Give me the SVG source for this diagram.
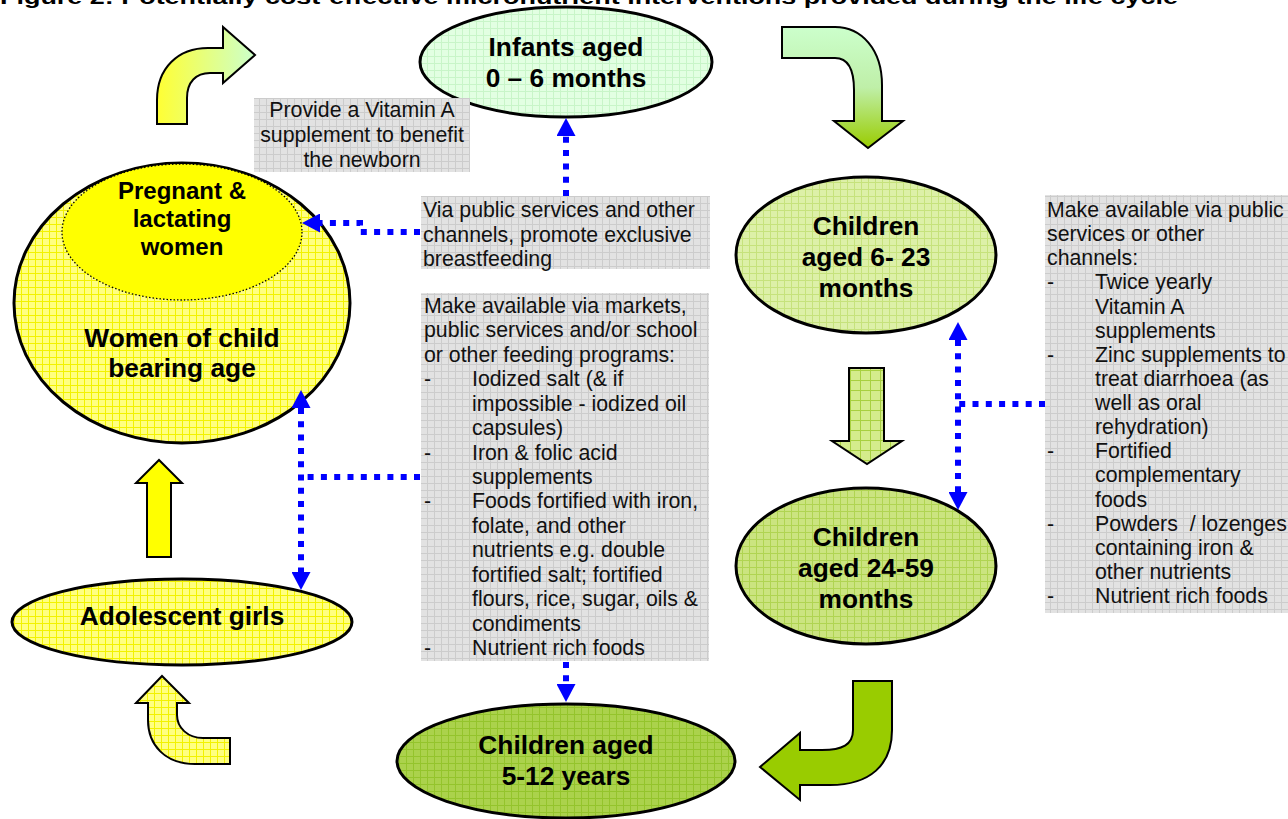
<svg xmlns="http://www.w3.org/2000/svg" width="1288" height="819" viewBox="0 0 1288 819">
<style>
.lbl{font-family:"Liberation Sans",Arial,sans-serif;font-weight:bold;font-size:26.3px;fill:#000;text-anchor:middle}
.lbl2{font-family:"Liberation Sans",Arial,sans-serif;font-weight:bold;font-size:24px;fill:#000;text-anchor:middle}
.txt{font-family:"Liberation Sans",Arial,sans-serif;font-size:21.3px;fill:#111}
.node{stroke:#000;stroke-width:3}
.arrow{stroke:#000;stroke-width:2;stroke-linejoin:miter}
.box{fill:url(#pGray)}
.conn{fill:none;stroke:#0000FF;stroke-width:6;stroke-dasharray:6 7.3}
</style>
<defs>
<pattern id="pYellow" width="7" height="7" patternUnits="userSpaceOnUse"><rect width="7" height="7" fill="#FFFF80"/><path d="M0,0.5H7M0.5,0V7" stroke="#F2F200" stroke-width="1"/></pattern>
<pattern id="pInf" width="7" height="7" patternUnits="userSpaceOnUse"><rect width="7" height="7" fill="#E2FFE2"/><path d="M0,0.5H7M0.5,0V7" stroke="#C8F5C8" stroke-width="1"/></pattern>
<pattern id="p623" width="7" height="7" patternUnits="userSpaceOnUse"><rect width="7" height="7" fill="#DDF0A8"/><path d="M0,0.5H7M0.5,0V7" stroke="#C6E27C" stroke-width="1"/></pattern>
<pattern id="p2459" width="7" height="7" patternUnits="userSpaceOnUse"><rect width="7" height="7" fill="#CBE480"/><path d="M0,0.5H7M0.5,0V7" stroke="#B0D452" stroke-width="1"/></pattern>
<pattern id="p512" width="7" height="7" patternUnits="userSpaceOnUse"><rect width="7" height="7" fill="#ABD24C"/><path d="M0,0.5H7M0.5,0V7" stroke="#94C42C" stroke-width="1"/></pattern>
<pattern id="pDown" width="10" height="10" patternUnits="userSpaceOnUse"><rect width="10" height="10" fill="#D4EC8C"/><path d="M0,0.5H10M0.5,0V10" stroke="#A8D040" stroke-width="1"/></pattern>
<pattern id="pGray" width="7" height="7" patternUnits="userSpaceOnUse"><rect width="7" height="7" fill="#E2E2E2"/><path d="M0,0.5H7M0.5,0V7" stroke="#CCCCCC" stroke-width="1"/></pattern>
<linearGradient id="gTL" gradientUnits="userSpaceOnUse" x1="157" y1="0" x2="255" y2="0"><stop offset="0" stop-color="#FFFF33"/><stop offset="1" stop-color="#CCFFCC"/></linearGradient>
<linearGradient id="gTR" gradientUnits="userSpaceOnUse" x1="0" y1="27" x2="0" y2="148"><stop offset="0" stop-color="#CCFFCC"/><stop offset="0.5" stop-color="#BFEFA8"/><stop offset="1" stop-color="#99CC00"/></linearGradient>
<marker id="ah" markerUnits="userSpaceOnUse" markerWidth="19" markerHeight="19" refX="0" refY="9.5" orient="auto-start-reverse" viewBox="0 0 18 19"><path d="M0,0L18,9.5L0,19Z" fill="#0000FF"/></marker>
</defs>

<text x="0" y="4" font-family="Liberation Sans,Arial,sans-serif" font-weight="bold" font-size="21" textLength="1178" lengthAdjust="spacingAndGlyphs">Figure 2: Potentially cost-effective micronutrient interventions provided during the life cycle</text>

<g id="women">
<ellipse class="node" cx="182" cy="303" rx="168" ry="140" fill="url(#pYellow)"/>
<text class="lbl" x="182" y="347">Women of child</text>
<text class="lbl" x="182" y="377">bearing age</text>
</g>
<g id="pregnant">
<ellipse cx="182" cy="232" rx="120" ry="68" fill="#FFFF00" stroke="#000" stroke-width="1.3" stroke-dasharray="1.5 2"/>
<text class="lbl2" x="182" y="199">Pregnant &amp;</text>
<text class="lbl2" x="182" y="227">lactating</text>
<text class="lbl2" x="182" y="255">women</text>
</g>
<g id="infants">
<ellipse class="node" cx="566" cy="62" rx="146" ry="55" fill="url(#pInf)"/>
<text class="lbl" x="566" y="56">Infants aged</text>
<text class="lbl" x="566" y="87">0 – 6 months</text>
</g>
<g id="children623">
<ellipse class="node" cx="866" cy="255" rx="130" ry="78" fill="url(#p623)"/>
<text class="lbl" x="866" y="235">Children</text>
<text class="lbl" x="866" y="266">aged 6- 23</text>
<text class="lbl" x="866" y="297">months</text>
</g>
<g id="children2459">
<ellipse class="node" cx="866" cy="566" rx="130" ry="78" fill="url(#p2459)"/>
<text class="lbl" x="866" y="546">Children</text>
<text class="lbl" x="866" y="577">aged 24-59</text>
<text class="lbl" x="866" y="608">months</text>
</g>
<g id="children512">
<ellipse class="node" cx="566" cy="761" rx="169" ry="57" fill="url(#p512)"/>
<text class="lbl" x="566" y="754">Children aged</text>
<text class="lbl" x="566" y="785">5-12 years</text>
</g>
<g id="adolescent">
<ellipse class="node" cx="182" cy="622" rx="170" ry="43" fill="url(#pYellow)"/>
<text class="lbl" x="182" y="625">Adolescent girls</text>
</g>

<g id="cycle-arrows">
<path class="arrow" fill="url(#gTL)" d="M157,124V100C157,68 178,48 208,48H223V27L255,55L223,83V73H210C196,73 187,82 187,98V124Z"/>
<path class="arrow" fill="url(#gTR)" d="M782,27H835C862,27 882,50 882,85V121H903L868,148L834,121H854V90C854,70 848,58 835,58H782Z"/>
<path class="arrow" fill="url(#pDown)" d="M849,368H884V441H902L867,464L832,441H849Z"/>
<path class="arrow" fill="#99CC00" d="M853,681H892V730C892,765 870,785 830,785H800V800L760,767L800,733V750H822C842,750 853,745 853,730Z"/>
<path class="arrow" fill="#FFFF00" d="M147,557V483H136L159,460L182,483H171V557Z"/>
<path class="arrow" fill="url(#pYellow)" d="M230,738H203C188,738 177,728 177,715V703H189L162,676L136,703H148V720C148,745 165,764 195,764H230Z"/>
</g>

<g id="box-vitA">
<rect class="box" x="254" y="98" width="216" height="74"/>
<text class="txt" x="362" y="117" text-anchor="middle">Provide a Vitamin A</text>
<text class="txt" x="362" y="142" text-anchor="middle">supplement to benefit</text>
<text class="txt" x="362" y="167" text-anchor="middle">the newborn</text>
</g>
<g id="box-breastfeeding">
<rect class="box" x="421" y="196" width="289" height="73"/>
<text class="txt" x="423" y="217">Via public services and other</text>
<text class="txt" x="423" y="241.6">channels, promote exclusive</text>
<text class="txt" x="423" y="266.2">breastfeeding</text>
</g>
<g id="box-women">
<rect class="box" x="421" y="293" width="288" height="368"/>
<text class="txt" x="424" y="313">Make available via markets,</text>
<text class="txt" x="424" y="337.4">public services and/or school</text>
<text class="txt" x="424" y="361.9">or other feeding programs:</text>
<text class="txt" x="424" y="386.3">-</text><text class="txt" x="472" y="386.3">Iodized salt (&amp; if</text>
<text class="txt" x="472" y="410.7">impossible - iodized oil</text>
<text class="txt" x="472" y="435.2">capsules)</text>
<text class="txt" x="424" y="459.6">-</text><text class="txt" x="472" y="459.6">Iron &amp; folic acid</text>
<text class="txt" x="472" y="484">supplements</text>
<text class="txt" x="424" y="508.4">-</text><text class="txt" x="472" y="508.4">Foods fortified with iron,</text>
<text class="txt" x="472" y="532.9">folate, and other</text>
<text class="txt" x="472" y="557.3">nutrients e.g. double</text>
<text class="txt" x="472" y="581.7">fortified salt; fortified</text>
<text class="txt" x="472" y="606.2">flours, rice, sugar, oils &amp;</text>
<text class="txt" x="472" y="630.6">condiments</text>
<text class="txt" x="424" y="655">-</text><text class="txt" x="472" y="655">Nutrient rich foods</text>
</g>
<g id="box-children">
<rect class="box" x="1045" y="195" width="243" height="418"/>
<text class="txt" x="1047" y="217">Make available via public</text>
<text class="txt" x="1047" y="241.1">services or other</text>
<text class="txt" x="1047" y="265.3">channels:</text>
<text class="txt" x="1047" y="289.4">-</text><text class="txt" x="1095" y="289.4">Twice yearly</text>
<text class="txt" x="1095" y="313.5">Vitamin A</text>
<text class="txt" x="1095" y="337.6">supplements</text>
<text class="txt" x="1047" y="361.8">-</text><text class="txt" x="1095" y="361.8">Zinc supplements to</text>
<text class="txt" x="1095" y="385.9">treat diarrhoea (as</text>
<text class="txt" x="1095" y="410">well as oral</text>
<text class="txt" x="1095" y="434.1">rehydration)</text>
<text class="txt" x="1047" y="458.3">-</text><text class="txt" x="1095" y="458.3">Fortified</text>
<text class="txt" x="1095" y="482.4">complementary</text>
<text class="txt" x="1095" y="506.5">foods</text>
<text class="txt" x="1047" y="530.6">-</text><text class="txt" x="1095" y="530.6">Powders&#160; / lozenges</text>
<text class="txt" x="1095" y="554.8">containing iron &amp;</text>
<text class="txt" x="1095" y="578.9">other nutrients</text>
<text class="txt" x="1047" y="603">-</text><text class="txt" x="1095" y="603">Nutrient rich foods</text>
</g>

<g id="connectors">
<path class="conn" d="M566,196V136" marker-end="url(#ah)"/>
<path class="conn" d="M420,232H360V223H320" marker-end="url(#ah)"/>
<path class="conn" d="M420,477H301"/>
<path class="conn" d="M301,408V572" marker-start="url(#ah)" marker-end="url(#ah)"/>
<path class="conn" d="M566,662V684" marker-end="url(#ah)"/>
<path class="conn" d="M1045,404H958"/>
<path class="conn" d="M958,340V492" marker-start="url(#ah)" marker-end="url(#ah)"/>
</g>
</svg>
